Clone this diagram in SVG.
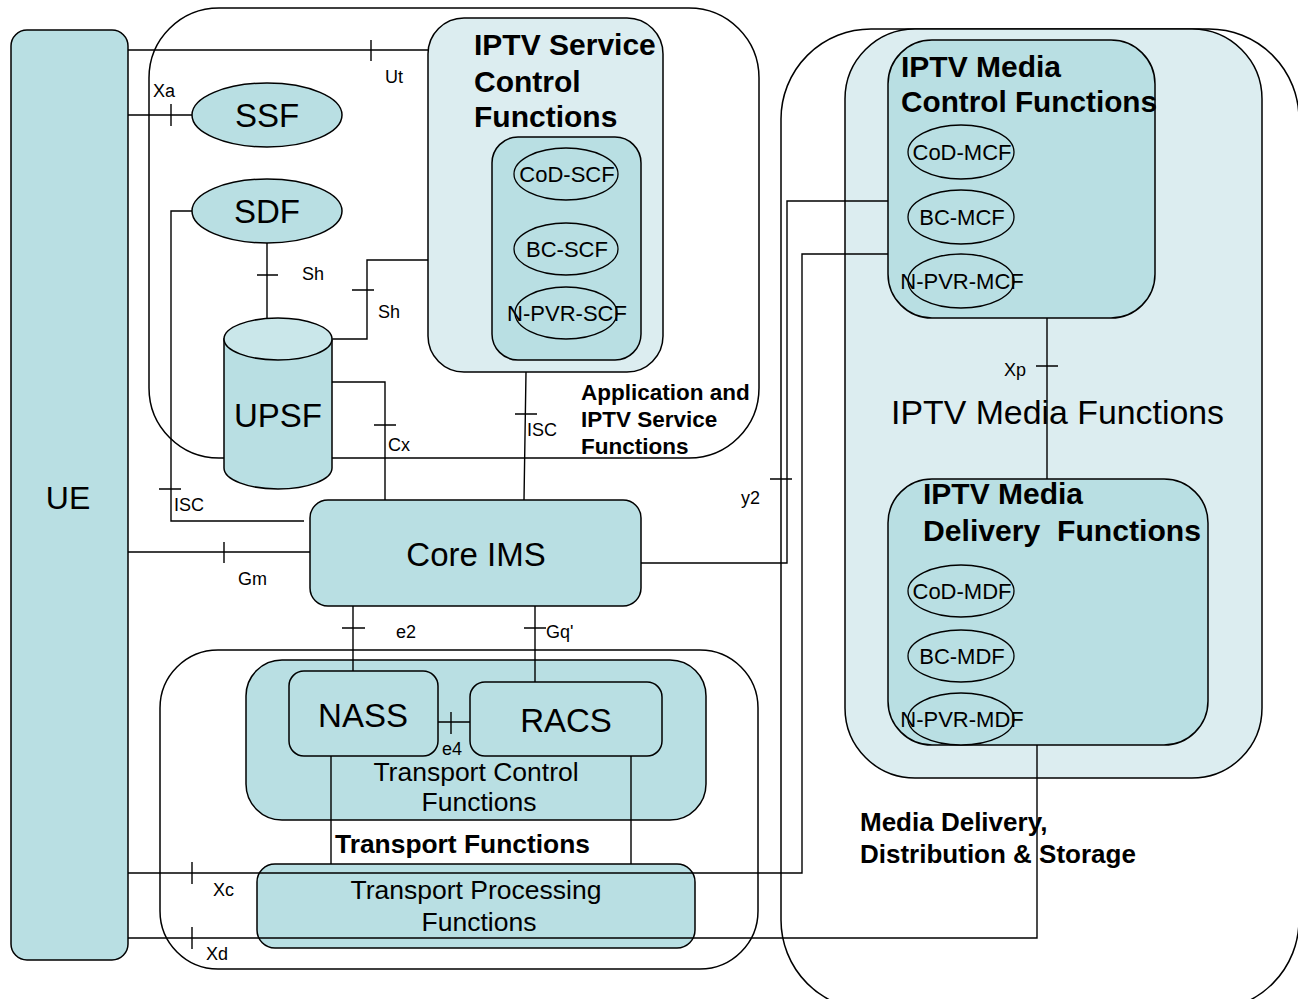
<svg xmlns="http://www.w3.org/2000/svg" width="1298" height="999" viewBox="0 0 1298 999">
<style>
text{font-family:"Liberation Sans",Arial,sans-serif;fill:#000}
.b{font-weight:bold}
.teal{fill:#b9dfe3;stroke:#000;stroke-width:1.5}
.light{fill:#dcedf0;stroke:#000;stroke-width:1.5}
.frame{fill:none;stroke:#000;stroke-width:1.5}
.ell{fill:#b9dfe3;stroke:#000;stroke-width:1.3}
.c{fill:none;stroke:#000;stroke-width:1.4}
.lbl{font-size:18px}
.el{font-size:22px}
.big{font-size:33px}
.mid{text-anchor:middle}
</style>
<rect width="1298" height="999" fill="#fff"/>
<g id="frames">
<rect id="app-frame" class="frame" x="149" y="8" width="610" height="450" rx="70"/>
<rect id="transport-frame" class="frame" x="160" y="650" width="598" height="319" rx="58"/>
<rect id="media-frame" class="frame" x="781" y="29" width="518" height="981" rx="90"/>
</g>
<g id="ue"><rect class="teal" x="11" y="30" width="117" height="930" rx="16"/><text class="big mid" x="68" y="509" style="font-size:32px">UE</text></g>
<g id="scf"><rect class="light" x="428" y="18" width="235" height="354" rx="36"/>
<text class="b" x="474" y="55" font-size="30">IPTV Service</text><text class="b" x="474" y="92" font-size="30">Control</text><text class="b" x="474" y="127" font-size="30">Functions</text>
<rect class="teal" x="492" y="137" width="149" height="223" rx="26"/>
<ellipse class="ell" cx="566" cy="174" rx="52" ry="26"/><text class="el mid" x="567" y="182">CoD-SCF</text>
<ellipse class="ell" cx="566" cy="249" rx="52" ry="26"/><text class="el mid" x="567" y="257">BC-SCF</text>
<ellipse class="ell" cx="566" cy="313" rx="51" ry="26"/><text class="el mid" x="567" y="321">N-PVR-SCF</text></g>
<g id="ssf"><ellipse class="teal" cx="267" cy="115" rx="75" ry="32"/><text class="big mid" x="267" y="127">SSF</text></g>
<g id="sdf"><ellipse class="teal" cx="267" cy="211" rx="75" ry="32"/><text class="big mid" x="267" y="223">SDF</text></g>
<g id="upsf"><path class="teal" d="M224,339 V468 A54,21 0 0 0 332,468 V339 Z"/><ellipse cx="278" cy="339" rx="54" ry="21" fill="#cae7ea" stroke="#000" stroke-width="1.5"/><text class="big mid" x="278" y="427">UPSF</text></g>
<g id="app-label"><text class="b" x="581" y="400" font-size="22.5">Application and</text><text class="b" x="581" y="427" font-size="22.5">IPTV Service</text><text class="b" x="581" y="454" font-size="22.5">Functions</text></g>
<g id="core-ims"><rect class="teal" x="310" y="500" width="331" height="106" rx="18"/><text class="big mid" x="476" y="566">Core IMS</text></g>
<g id="transport-control"><rect class="teal" x="246" y="660" width="460" height="160" rx="36"/>
<text class="mid" x="476" y="781" font-size="26.5">Transport Control</text><text class="mid" x="479" y="811" font-size="26.5">Functions</text></g>
<g id="nass"><rect class="teal" x="289" y="671" width="149" height="85" rx="15"/><text class="big mid" x="363" y="727">NASS</text></g>
<g id="racs"><rect class="teal" x="470" y="682" width="192" height="74" rx="15"/><text class="big mid" x="566" y="732">RACS</text></g>
<g id="transport-label"><text class="b" x="335" y="853" font-size="26" textLength="255" lengthAdjust="spacingAndGlyphs">Transport Functions</text></g>
<g id="tpf"><rect class="teal" x="257" y="864" width="438" height="84" rx="18"/><text class="mid" x="476" y="899" font-size="26.5">Transport Processing</text><text class="mid" x="479" y="931" font-size="26.5">Functions</text></g>
<g id="media-functions"><rect class="light" x="845" y="29" width="417" height="749" rx="70"/><text x="891" y="424" font-size="33" textLength="333" lengthAdjust="spacingAndGlyphs">IPTV Media Functions</text></g>
<g id="mcf"><rect class="teal" x="888" y="40" width="267" height="278" rx="44"/>
<text class="b" x="901" y="77" font-size="30">IPTV Media</text><text class="b" x="901" y="112" font-size="30" textLength="256" lengthAdjust="spacingAndGlyphs">Control Functions</text>
<ellipse class="ell" cx="961" cy="152" rx="53" ry="27"/><text class="el mid" x="962" y="160">CoD-MCF</text>
<ellipse class="ell" cx="961" cy="217" rx="53" ry="27"/><text class="el mid" x="962" y="225">BC-MCF</text>
<ellipse class="ell" cx="961" cy="281" rx="53" ry="27"/><text class="el mid" x="962" y="289">N-PVR-MCF</text></g>
<g id="mdf"><rect class="teal" x="888" y="479" width="320" height="266" rx="44"/>
<text class="b" x="923" y="504" font-size="30">IPTV Media</text><text class="b" x="923" y="541" font-size="30" textLength="278" lengthAdjust="spacingAndGlyphs">Delivery&#160; Functions</text>
<ellipse class="ell" cx="961" cy="591" rx="53" ry="26"/><text class="el mid" x="962" y="599">CoD-MDF</text>
<ellipse class="ell" cx="961" cy="656" rx="53" ry="26"/><text class="el mid" x="962" y="664">BC-MDF</text>
<ellipse class="ell" cx="961" cy="719" rx="53" ry="26"/><text class="el mid" x="962" y="727">N-PVR-MDF</text></g>
<g id="media-label"><text class="b" x="860" y="831" font-size="26">Media Delivery,</text><text class="b" x="860" y="863" font-size="26">Distribution &amp; Storage</text></g>
<g id="connectors">
<path class="c" d="M128,50 H428 M371,40 V61"/>
<path class="c" d="M128,115 H192 M171,104 V126"/>
<path class="c" d="M192,211 H171 V521 H304 M159,489 H181"/>
<path class="c" d="M267,243 V318 M257,275 H278"/>
<path class="c" d="M333,339 H367 V260 H428 M352,290 H374"/>
<path class="c" d="M332,382 H385 V500 M374,425 H396"/>
<path class="c" d="M526,372 L524,500 M515,414 H537"/>
<path class="c" d="M128,552 H310 M224,542 V563"/>
<path class="c" d="M641,563 H787 V201 H888 M770,479 H792"/>
<path class="c" d="M128,873 H802 V254 H888 M192,862 V884"/>
<path class="c" d="M128,938 H1037 V745 M192,927 V949"/>
<path class="c" d="M353,606 V671 M342,628 H365"/>
<path class="c" d="M535,606 V682 M524,628 H546"/>
<path class="c" d="M438,722 H470 M451,712 V734"/>
<path class="c" d="M331,756 V864 M631,756 V864"/>
<path class="c" d="M1047,318 V479 M1036,366 H1058"/>
<g class="lbl">
<text class="lbl" x="385" y="83">Ut</text>
<text class="lbl" x="153" y="97">Xa</text>
<text class="lbl" x="302" y="280">Sh</text>
<text class="lbl" x="378" y="318">Sh</text>
<text class="lbl" x="388" y="451">Cx</text>
<text class="lbl" x="527" y="436">ISC</text>
<text class="lbl" x="174" y="511">ISC</text>
<text class="lbl" x="238" y="585">Gm</text>
<text class="lbl" x="396" y="638">e2</text>
<text class="lbl" x="546" y="638">Gq'</text>
<text class="lbl" x="442" y="755">e4</text>
<text class="lbl" x="741" y="504">y2</text>
<text class="lbl" x="1004" y="376">Xp</text>
<text class="lbl" x="213" y="896">Xc</text>
<text class="lbl" x="206" y="960">Xd</text>
</g>
</g>
</svg>
